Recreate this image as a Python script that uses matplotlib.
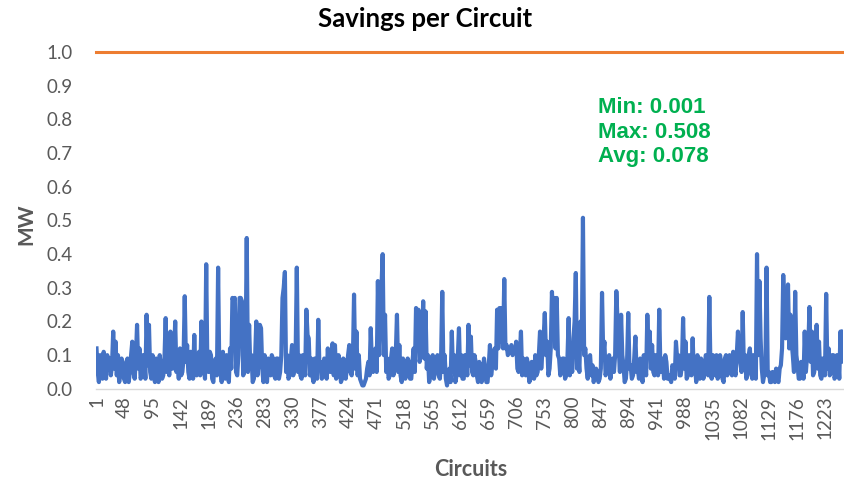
import matplotlib
matplotlib.use("Agg")
import matplotlib.pyplot as plt
import numpy as np

plt.rcParams["font.family"] = ["Lato", "DejaVu Sans"]

BLUE, ORANGE, GREEN, GRAY = "#4472C4", "#ED7D31", "#00B050", "#595959"

# savings per circuit (MW), read every 2nd circuit off the reference
circuit_step = 2
savings = [
    0.12, 0.05, 0.02, 0.10, 0.07, 0.03, 0.11, 0.06, 0.03, 0.10, 0.06, 0.09, 0.04, 0.07, 0.17, 0.06, 0.14, 0.04, 0.10, 0.02,
    0.05, 0.09, 0.07, 0.03, 0.02, 0.08, 0.09, 0.02, 0.05, 0.10, 0.14, 0.05, 0.03, 0.09, 0.19, 0.06, 0.12, 0.03, 0.04, 0.10,
    0.08, 0.03, 0.22, 0.07, 0.19, 0.05, 0.03, 0.10, 0.06, 0.02, 0.09, 0.04, 0.02, 0.10, 0.07, 0.03, 0.04, 0.09, 0.21, 0.05,
    0.10, 0.04, 0.17, 0.06, 0.06, 0.10, 0.20, 0.05, 0.08, 0.03, 0.12, 0.04, 0.05, 0.09, 0.275, 0.08, 0.13, 0.05, 0.03, 0.11,
    0.09, 0.03, 0.16, 0.05, 0.04, 0.09, 0.11, 0.04, 0.20, 0.06, 0.07, 0.03, 0.37, 0.06, 0.05, 0.11, 0.10, 0.03, 0.02, 0.08,
    0.09, 0.04, 0.36, 0.05, 0.06, 0.02, 0.11, 0.05, 0.03, 0.10, 0.08, 0.02, 0.12, 0.06, 0.27, 0.26, 0.27, 0.05, 0.04, 0.10,
    0.27, 0.27, 0.26, 0.04, 0.05, 0.10, 0.448, 0.05, 0.19, 0.06, 0.10, 0.02, 0.03, 0.09, 0.20, 0.04, 0.08, 0.19, 0.18, 0.06,
    0.02, 0.10, 0.05, 0.02, 0.09, 0.05, 0.04, 0.10, 0.09, 0.04, 0.03, 0.09, 0.09, 0.03, 0.05, 0.10, 0.27, 0.30, 0.347, 0.05,
    0.10, 0.03, 0.04, 0.09, 0.13, 0.04, 0.06, 0.10, 0.36, 0.05, 0.10, 0.04, 0.03, 0.10, 0.09, 0.04, 0.235, 0.16, 0.15, 0.04,
    0.09, 0.04, 0.02, 0.09, 0.07, 0.03, 0.205, 0.06, 0.08, 0.03, 0.04, 0.09, 0.08, 0.03, 0.12, 0.06, 0.05, 0.10, 0.135, 0.04,
    0.13, 0.03, 0.04, 0.10, 0.08, 0.02, 0.03, 0.09, 0.08, 0.03, 0.06, 0.10, 0.13, 0.05, 0.04, 0.08, 0.28, 0.06, 0.17, 0.04,
    0.10, 0.03, 0.02, 0.01, 0.01, 0.02, 0.03, 0.06, 0.08, 0.04, 0.18, 0.07, 0.05, 0.10, 0.12, 0.05, 0.32, 0.10, 0.22, 0.30,
    0.40, 0.10, 0.22, 0.05, 0.09, 0.03, 0.04, 0.09, 0.12, 0.04, 0.07, 0.10, 0.22, 0.05, 0.13, 0.04, 0.02, 0.09, 0.08, 0.03,
    0.05, 0.09, 0.08, 0.03, 0.03, 0.08, 0.12, 0.05, 0.24, 0.12, 0.235, 0.08, 0.10, 0.14, 0.26, 0.09, 0.23, 0.06, 0.10, 0.02,
    0.04, 0.09, 0.10, 0.03, 0.06, 0.09, 0.10, 0.04, 0.03, 0.09, 0.288, 0.05, 0.10, 0.03, 0.01, 0.04, 0.06, 0.02, 0.17, 0.05,
    0.10, 0.02, 0.04, 0.09, 0.18, 0.04, 0.10, 0.03, 0.03, 0.10, 0.08, 0.04, 0.19, 0.07, 0.155, 0.05, 0.04, 0.10, 0.08, 0.04,
    0.02, 0.08, 0.06, 0.02, 0.03, 0.09, 0.06, 0.02, 0.02, 0.07, 0.13, 0.04, 0.07, 0.10, 0.12, 0.06, 0.235, 0.12, 0.24, 0.14,
    0.24, 0.12, 0.326, 0.12, 0.13, 0.10, 0.11, 0.12, 0.13, 0.10, 0.12, 0.11, 0.14, 0.06, 0.05, 0.10, 0.17, 0.04, 0.09, 0.08,
    0.04, 0.09, 0.07, 0.02, 0.03, 0.08, 0.07, 0.03, 0.10, 0.04, 0.05, 0.10, 0.17, 0.06, 0.11, 0.15, 0.225, 0.10, 0.14, 0.04,
    0.06, 0.12, 0.288, 0.20, 0.27, 0.12, 0.27, 0.10, 0.09, 0.04, 0.05, 0.09, 0.09, 0.03, 0.04, 0.09, 0.21, 0.04, 0.08, 0.05,
    0.15, 0.20, 0.344, 0.06, 0.10, 0.05, 0.20, 0.12, 0.508, 0.10, 0.12, 0.06, 0.03, 0.09, 0.10, 0.04, 0.07, 0.02, 0.04, 0.06,
    0.05, 0.02, 0.03, 0.06, 0.285, 0.10, 0.14, 0.04, 0.06, 0.09, 0.10, 0.03, 0.06, 0.09, 0.05, 0.10, 0.29, 0.20, 0.12, 0.05,
    0.22, 0.10, 0.07, 0.02, 0.03, 0.08, 0.225, 0.06, 0.07, 0.03, 0.04, 0.09, 0.155, 0.05, 0.06, 0.03, 0.09, 0.04, 0.02, 0.10,
    0.08, 0.04, 0.22, 0.10, 0.17, 0.06, 0.13, 0.05, 0.04, 0.10, 0.09, 0.04, 0.235, 0.05, 0.06, 0.09, 0.03, 0.10, 0.08, 0.03,
    0.04, 0.03, 0.02, 0.07, 0.06, 0.03, 0.14, 0.09, 0.10, 0.04, 0.04, 0.07, 0.21, 0.06, 0.14, 0.03, 0.04, 0.10, 0.09, 0.04,
    0.15, 0.05, 0.07, 0.02, 0.10, 0.04, 0.03, 0.09, 0.08, 0.03, 0.05, 0.10, 0.09, 0.04, 0.273, 0.05, 0.03, 0.10, 0.08, 0.04,
    0.10, 0.03, 0.04, 0.10, 0.07, 0.03, 0.02, 0.09, 0.10, 0.04, 0.05, 0.10, 0.09, 0.04, 0.11, 0.06, 0.04, 0.10, 0.17, 0.10,
    0.08, 0.05, 0.228, 0.06, 0.10, 0.03, 0.04, 0.10, 0.12, 0.06, 0.03, 0.10, 0.08, 0.03, 0.40, 0.10, 0.32, 0.15, 0.06, 0.02,
    0.04, 0.05, 0.36, 0.04, 0.05, 0.02, 0.02, 0.05, 0.03, 0.02, 0.06, 0.03, 0.02, 0.06, 0.07, 0.12, 0.338, 0.22, 0.15, 0.20,
    0.31, 0.12, 0.22, 0.14, 0.10, 0.05, 0.288, 0.10, 0.07, 0.03, 0.03, 0.08, 0.07, 0.03, 0.17, 0.05, 0.10, 0.12, 0.243, 0.08,
    0.17, 0.04, 0.05, 0.10, 0.19, 0.06, 0.14, 0.04, 0.03, 0.09, 0.08, 0.04, 0.282, 0.06, 0.12, 0.04, 0.05, 0.10, 0.10, 0.03,
    0.04, 0.10, 0.09, 0.03, 0.17, 0.08, 0.17,
]
circuits = np.arange(1, 1 + circuit_step * len(savings), circuit_step)
n_circuits = 1253
limit_mw = 1.0
tick_labels = list(range(1, n_circuits + 1, 47))
stats_text = "Min: 0.001\nMax: 0.508\nAvg: 0.078"

fig = plt.figure(figsize=(8.44, 4.83), dpi=100)
ax = fig.add_axes([0.114, 0.195, 0.885, 0.697])

ax.plot(circuits, savings, color=BLUE, lw=3.0)
ax.plot([0.5, n_circuits + 0.5], [limit_mw, limit_mw], color=ORANGE, lw=2.2,
        clip_on=False)

ax.set_xlim(0.5, n_circuits + 0.5)
ax.set_ylim(0, 1.0)
yticks = np.arange(0, 1.01, 0.1)
ax.set_yticks(yticks)
ax.set_yticklabels([f"{v:.1f}" for v in yticks])
ax.set_xticks(tick_labels)
ax.set_xticklabels([str(t) for t in tick_labels], rotation=90)
ax.tick_params(axis="both", length=0, colors=GRAY, labelsize=13.5)
ax.tick_params(axis="y", pad=17)
ax.tick_params(axis="x", pad=5)

for s in ["top", "right", "left"]:
    ax.spines[s].set_visible(False)
ax.spines["bottom"].set_color("#D9D9D9")
ax.spines["bottom"].set_linewidth(1.0)

fig.text(425 / 844, 1 - 19 / 483, "Savings per Circuit", fontsize=18.5,
         fontweight="bold", color="#000000", ha="center", va="center")
fig.text(26 / 844, 1 - 224 / 483, "MW", fontsize=15, fontweight="bold",
         color=GRAY, ha="center", va="center", rotation=90)
fig.text(471 / 844, 1 - 470 / 483, "Circuits", fontsize=15.5, fontweight="bold",
         color=GRAY, ha="center", va="center")

fig.text(598 / 844, 1 - 97 / 483, stats_text, fontsize=16, fontweight="bold",
         color=GREEN, ha="left", va="top", linespacing=1.22,
         family=["Liberation Sans", "DejaVu Sans"])

fig.savefig("out.png", dpi=100)
